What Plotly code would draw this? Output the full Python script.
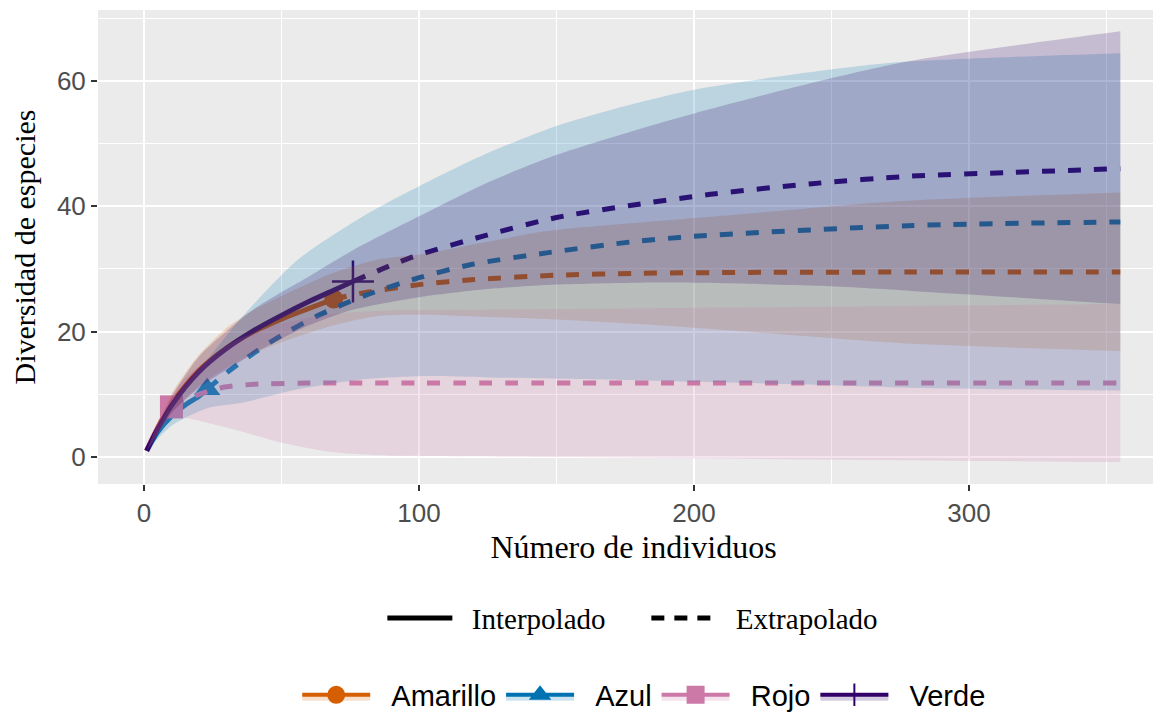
import plotly.graph_objects as go

# ---------------- data ----------------
groups = ["Amarillo", "Azul", "Rojo", "Verde"]
group_colors = ["#D55E00", "#0072B2", "#CC79A7", "#320069"]
group_symbols = ["circle", "triangle-up", "square", "cross-thin"]

# Interpolated (rarefaction) curves
amarillo_int_x = [1, 5, 10, 20, 30, 40, 50, 60, 69]
amarillo_int_y = [1, 4.7, 8.5, 13.8, 17.4, 20.0, 22.0, 23.7, 25.2]
azul_int_x = [1, 5, 10, 15, 20, 23]
azul_int_y = [1, 4.0, 6.5, 8.3, 9.7, 10.8]
rojo_int_x = [1, 3, 5, 7, 9, 10]
rojo_int_y = [1, 2.9, 4.6, 6.0, 7.2, 8.0]
verde_int_x = [1, 5, 10, 20, 30, 40, 50, 60, 70, 76]
verde_int_y = [1, 4.5, 8.2, 13.6, 17.3, 20.2, 22.6, 24.8, 26.8, 28.0]

# Extrapolated curves
amarillo_ext_x = [69, 80, 100, 120, 150, 180, 220, 280, 355]
amarillo_ext_y = [25.2, 26.2, 27.5, 28.3, 29.0, 29.3, 29.45, 29.5, 29.5]
azul_ext_x = [23, 30, 40, 50, 63.5, 80, 100, 119, 147, 177, 200, 278, 355]
azul_ext_y = [10.8, 13.4, 16.6, 19.4, 22.6, 25.7, 28.6, 30.7, 32.6, 34.3, 35.2, 36.9, 37.5]
rojo_ext_x = [10, 15, 20, 25, 30, 40, 60, 100, 355]
rojo_ext_y = [8.0, 9.2, 10.0, 10.7, 11.2, 11.6, 11.8, 11.8, 11.8]
verde_ext_x = [76, 97, 123, 150, 178, 206, 243, 279, 316, 355]
verde_ext_y = [28.0, 31.8, 35.2, 38.2, 40.2, 41.9, 43.6, 44.8, 45.4, 46.0]

# 95% confidence bands
amarillo_ci_x = [1, 10, 20, 30, 40, 50, 69, 85, 100, 146, 180, 216, 274, 355]
amarillo_ci_lo = [1, 7.0, 11.3, 14.2, 16.5, 18.3, 21.0, 22.5, 22.7, 22.0, 21.2, 20.1, 18.2, 16.9]
amarillo_ci_hi = [1, 10.0, 16.3, 20.6, 23.5, 25.7, 29.4, 31.5, 32.3, 36.0, 37.4, 38.7, 40.8, 42.2]
azul_ci_x = [1, 10, 23, 35, 56, 80, 100, 125, 150, 175, 200, 246, 275, 355]
azul_ci_lo = [1, 5.0, 7.8, 8.6, 10.8, 12.4, 12.9, 12.7, 12.5, 12.3, 12.0, 11.5, 11.1, 10.6]
azul_ci_hi = [1, 8.5, 15.5, 22.0, 31.5, 38.5, 43.2, 48.5, 52.8, 56.0, 58.6, 61.6, 63.0, 64.4]
rojo_ci_x = [1, 5, 10, 14, 20, 32, 40, 49, 60, 68, 80, 92, 150, 223, 355]
rojo_ci_lo = [1, 3.6, 6.0, 6.3, 5.8, 4.5, 3.5, 2.4, 1.4, 0.8, 0.4, 0.2, 0.0, -0.3, -0.8]
rojo_ci_hi = [1, 5.5, 10.0, 12.2, 14.5, 18.3, 19.8, 21.2, 22.2, 22.8, 23.2, 23.4, 23.6, 23.9, 24.4]
verde_ci_x = [1, 10, 20, 40, 60, 76, 100, 125, 150, 180, 200, 246, 279, 355]
verde_ci_lo = [1, 7.0, 11.0, 16.5, 21.0, 23.5, 25.5, 26.8, 27.5, 27.8, 27.8, 27.3, 26.5, 24.4]
verde_ci_hi = [1, 9.5, 16.0, 23.6, 28.8, 33.0, 38.4, 43.8, 48.2, 52.3, 54.8, 60.0, 63.2, 67.9]

x_ticks = [0, 100, 200, 300]
y_ticks = [0, 20, 40, 60]
method_labels = ["Interpolado", "Extrapolado"]

series = [
    (amarillo_int_x, amarillo_int_y, amarillo_ext_x, amarillo_ext_y, amarillo_ci_x, amarillo_ci_lo, amarillo_ci_hi),
    (azul_int_x, azul_int_y, azul_ext_x, azul_ext_y, azul_ci_x, azul_ci_lo, azul_ci_hi),
    (rojo_int_x, rojo_int_y, rojo_ext_x, rojo_ext_y, rojo_ci_x, rojo_ci_lo, rojo_ci_hi),
    (verde_int_x, verde_int_y, verde_ext_x, verde_ext_y, verde_ci_x, verde_ci_lo, verde_ci_hi),
]


def rgba(hex_color, a):
    h = hex_color.lstrip("#")
    r, g, b = int(h[0:2], 16), int(h[2:4], 16), int(h[4:6], 16)
    return f"rgba({r},{g},{b},{a})"


GAP = "\u00a0\u00a0"  # small gap between legend key and its label

fig = go.Figure()
LW = 5
DASH = "13px,13px"

# lines + reference-sample points (drawn first, ribbons go on top like ggiNEXT)
for name, col, sym, (ix, iy, ex, ey, cx, lo, hi) in zip(groups, group_colors, group_symbols, series):
    fig.add_trace(go.Scatter(x=ix, y=iy, mode="lines", showlegend=False,
                             line=dict(color=col, width=LW, shape="spline", smoothing=0.8),
                             hoverinfo="skip"))
    fig.add_trace(go.Scatter(x=ex, y=ey, mode="lines", showlegend=False,
                             line=dict(color=col, width=LW, dash=DASH, shape="spline", smoothing=0.8),
                             hoverinfo="skip"))
    if sym == "cross-thin":
        mk = dict(symbol=sym, size=30, color=col, line=dict(color=col, width=2.5))
    elif sym == "square":
        mk = dict(symbol=sym, size=23, color=col)
    elif sym == "triangle-up":
        mk = dict(symbol=sym, size=23, color=col)
    else:
        mk = dict(symbol=sym, size=19, color=col)
    fig.add_trace(go.Scatter(x=[ix[-1]], y=[iy[-1]], mode="markers", marker=mk,
                             showlegend=False, hoverinfo="skip"))

# confidence ribbons
for name, col, (ix, iy, ex, ey, cx, lo, hi) in zip(groups, group_colors, series):
    fig.add_trace(go.Scatter(x=cx, y=lo, mode="lines", showlegend=False,
                             line=dict(width=0, color=rgba(col, 0), shape="spline", smoothing=0.7),
                             hoverinfo="skip"))
    fig.add_trace(go.Scatter(x=cx, y=hi, mode="lines", showlegend=False, fill="tonexty",
                             fillcolor=rgba(col, 0.2),
                             line=dict(width=0, color=rgba(col, 0), shape="spline", smoothing=0.7),
                             hoverinfo="skip"))

# legend 1: method
for lab, dash in zip(method_labels, ["solid", "13px,10px"]):
    fig.add_trace(go.Scatter(x=[None], y=[None], mode="lines", name=GAP + lab,
                             line=dict(color="black", width=5, dash=dash),
                             legend="legend"))

# legend 2: assemblages
for name, col, sym in zip(groups, group_colors, group_symbols):
    fig.add_trace(go.Scatter(x=[None], y=[None], mode="lines+markers", name=GAP + name,
                             fill="toself", fillcolor=rgba(col, 0.2),
                             line=dict(color=col, width=4),
                             marker=dict(symbol=sym, size=16, color=col,
                                         line=dict(color=col, width=2)),
                             legend="legend2"))

fig.update_layout(
    width=1161, height=713,
    margin=dict(l=90, r=0, t=2, b=233),
    paper_bgcolor="white",
    plot_bgcolor="#EBEBEB",
    font=dict(family="Liberation Sans, Arial, sans-serif", color="#4D4D4D"),
    xaxis=dict(
        range=[-16.7, 372.7], tickvals=x_ticks, ticktext=[str(v) for v in x_ticks],
        showgrid=True, gridcolor="white", gridwidth=2, zeroline=False, showline=False,
        ticks="outside", ticklen=6, tickwidth=1.5, tickcolor="#333333",
        tickfont=dict(size=26, color="#4D4D4D", family="Liberation Sans, Arial, sans-serif"),
        minor=dict(dtick=50, tick0=0, showgrid=True, gridcolor="white", gridwidth=1, ticklen=0),
        title=dict(text="Número de individuos", standoff=8,
                   font=dict(family="Liberation Serif, Times New Roman, serif", size=32, color="black")),
        automargin=False,
    ),
    yaxis=dict(
        range=[-4.3, 71.3], tickvals=y_ticks, ticktext=[str(v) for v in y_ticks],
        showgrid=True, gridcolor="white", gridwidth=2, zeroline=False, showline=False,
        ticks="outside", ticklen=6, tickwidth=1.5, tickcolor="#333333",
        tickfont=dict(size=26, color="#4D4D4D", family="Liberation Sans, Arial, sans-serif"),
        minor=dict(dtick=10, tick0=0, showgrid=True, gridcolor="white", gridwidth=1, ticklen=0),
        title=dict(text="Diversidad de especies", standoff=18,
                   font=dict(family="Liberation Serif, Times New Roman, serif", size=30, color="black")),
        automargin=False,
    ),
    legend=dict(orientation="h", x=0.512, y=-0.283, xanchor="center", yanchor="middle",
                traceorder="normal", entrywidth=184, entrywidthmode="pixels",
                font=dict(family="Liberation Serif, Times New Roman, serif", size=29, color="black"),
                bgcolor="rgba(0,0,0,0)", itemwidth=65),
    legend2=dict(orientation="h", x=0.51, y=-0.445, xanchor="center", yanchor="middle",
                 traceorder="normal",
                 font=dict(family="Liberation Sans, Arial, sans-serif", size=29, color="black"),
                 bgcolor="rgba(0,0,0,0)", itemwidth=68),
)

fig.write_html("out.html")
